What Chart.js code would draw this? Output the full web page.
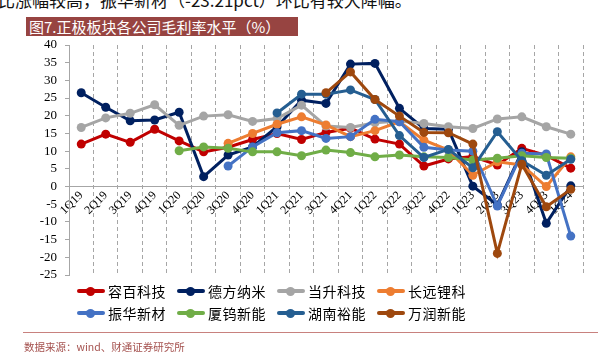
<!DOCTYPE html>
<html><head><meta charset="utf-8">
<script src="https://cdn.jsdelivr.net/npm/chart.js@4/dist/chart.umd.min.js"></script>
<style>
html,body{margin:0;padding:0;background:#fff;width:598px;height:356px;overflow:hidden;}
body{position:relative;font-family:"Noto Sans CJK SC",sans-serif;}
#c{position:absolute;left:0;top:0;}
#toptext{position:absolute;left:-2px;top:-10px;font-size:17px;line-height:19px;white-space:nowrap;color:#111;}
#title{position:absolute;left:26px;top:17px;width:272px;height:19px;background:#974441;color:#fff;font-size:15px;line-height:19px;padding-left:3px;box-sizing:border-box;white-space:nowrap;overflow:hidden;}
.lg{position:absolute;height:18px;white-space:nowrap;font-size:14px;line-height:18px;letter-spacing:0.5px;color:#000;}
.lg .ln{position:absolute;left:0;top:7px;width:28px;height:4px;border-radius:2px;}
.lg .dt{position:absolute;left:9px;top:4.5px;width:9px;height:9px;border-radius:50%;}
.lg .tx{position:absolute;left:31px;top:0;}
#rule{position:absolute;left:23px;top:332px;width:575px;height:1px;background:#C8817E;}
#src{position:absolute;left:24px;top:340px;font-size:10.5px;line-height:14px;color:#A5524F;white-space:nowrap;}
</style></head>
<body>
<div id="toptext">比涨幅较高，振华新材（-23.21pct）环比有较大降幅。</div>
<div id="title">图7.正极板块各公司毛利率水平（%）</div>
<canvas id="c" width="598" height="356"></canvas>
<div id="legend"></div>
<div id="rule"></div>
<div id="src">数据来源：wind、财通证券研究所</div>
<script>
const categories = ['1Q19','2Q19','3Q19','4Q19','1Q20','2Q20','3Q20','4Q20','1Q21','2Q21','3Q21','4Q21','1Q22','2Q22','3Q22','4Q22','1Q23','2Q23','3Q23','4Q23','1Q24'];
const yTicks = [40,35,30,25,20,15,10,5,0,-5,-10,-15,-20,-25];
const seriesNames = ['容百科技','德方纳米','当升科技','长远锂科','振华新材','厦钨新能','湖南裕能','万润新能'];
const rongbai   = [12.0,14.8,12.5,16.2,12.9,9.8,11.1,13.3,15.0,13.3,15.3,16.5,13.4,12.0,5.8,7.8,8.5,6.1,10.8,8.8,5.2];
const defang    = [26.5,22.4,18.6,18.8,21.0,2.8,8.9,11.2,16.9,24.4,23.5,34.6,34.8,22.1,16.4,16.2,0.1,-5.2,9.8,-10.4,0.2];
const dangsheng = [16.7,19.4,20.7,23.1,17.3,19.9,20.3,18.4,19.2,23.0,17.1,16.7,18.0,18.5,17.8,16.9,16.4,19.1,19.7,16.9,14.8];
const changyuan = [null,null,null,null,null,null,12.2,15.0,17.6,19.7,17.4,14.1,15.8,18.3,13.1,10.3,3.2,7.0,6.1,0.0,8.4];
const zhenhua   = [null,null,null,null,null,null,5.8,11.2,15.2,15.8,13.6,14.1,19.0,18.3,11.1,10.3,10.0,-5.5,9.4,9.2,-14.0];
const xiawu     = [null,null,null,null,10.1,11.2,10.8,9.8,9.8,8.7,10.3,9.6,8.4,8.9,8.4,8.2,7.5,8.0,8.7,8.2,8.0];
const hunan     = [null,null,null,null,null,null,null,null,20.8,26.1,26.1,27.3,24.6,14.4,8.2,10.5,5.3,15.5,7.3,3.2,7.7];
const wanrun    = [null,null,null,null,null,null,null,null,null,null,26.5,32.4,24.6,19.9,15.3,15.2,12.0,-18.9,6.3,-5.7,-0.8];
const seriesValues = [rongbai,defang,dangsheng,changyuan,zhenhua,xiawu,hunan,wanrun];
const colors = ['#C00000','#002060','#A5A5A5','#ED7D31','#4472C4','#70AD47','#255E91','#9E480E'];

Chart.defaults.font.family = '"Liberation Serif","Times New Roman",serif';
Chart.defaults.color = '#000';

const datasets = seriesValues.map((d,i)=>({
  label: seriesNames[i],
  data: d,
  borderColor: colors[i],
  backgroundColor: colors[i],
  pointBackgroundColor: colors[i],
  pointBorderColor: colors[i],
  pointBorderWidth: 0,
  pointRadius: 4.5,
  borderWidth: 3,
  tension: 0,
  order: seriesNames.length - i
}));

new Chart(document.getElementById('c'), {
  type: 'line',
  data: { labels: categories, datasets },
  options: {
    responsive: false,
    animation: false,
    layout: { padding: { left: 0, top: 45, right: 15, bottom: 81 } },
    plugins: { legend: { display: false }, tooltip: { enabled: false } },
    scales: {
      x: {
        type: 'category',
        offset: true,
        position: { y: 0 },
        grid: { display: true, drawOnChartArea: true, drawTicks: false, color: '#A6A6A6', lineWidth: 1, offset: true },
        border: { display: true, color: '#A6A6A6', width: 1, dash: [4,3] },
        ticks: { autoSkip: false, minRotation: 45, maxRotation: 45, padding: 2, font: { size: 12 } }
      },
      y: {
        min: -25, max: 40,
        afterBuildTicks: s => { s.ticks = yTicks.map(v => ({ value: v })); },
        afterFit: s => { s.width = 69; },
        grid: { drawOnChartArea: false, drawTicks: true, tickLength: 4, color: '#A6A6A6' },
        border: { display: true, color: '#A6A6A6', width: 1 },
        ticks: { autoSkip: false, padding: 8, font: { size: 13 } }
      }
    }
  }
});

const lg = document.getElementById('legend');
seriesNames.forEach((n,i)=>{
  const row = Math.floor(i/4), col = i%4;
  const d = document.createElement('div');
  d.className = 'lg';
  d.style.left = (77 + col*100) + 'px';
  d.style.top = (282 + row*22) + 'px';
  d.innerHTML = '<span class="ln" style="background:'+colors[i]+'"></span><span class="dt" style="background:'+colors[i]+'"></span><span class="tx">'+n+'</span>';
  lg.appendChild(d);
});
</script>
</body></html>
